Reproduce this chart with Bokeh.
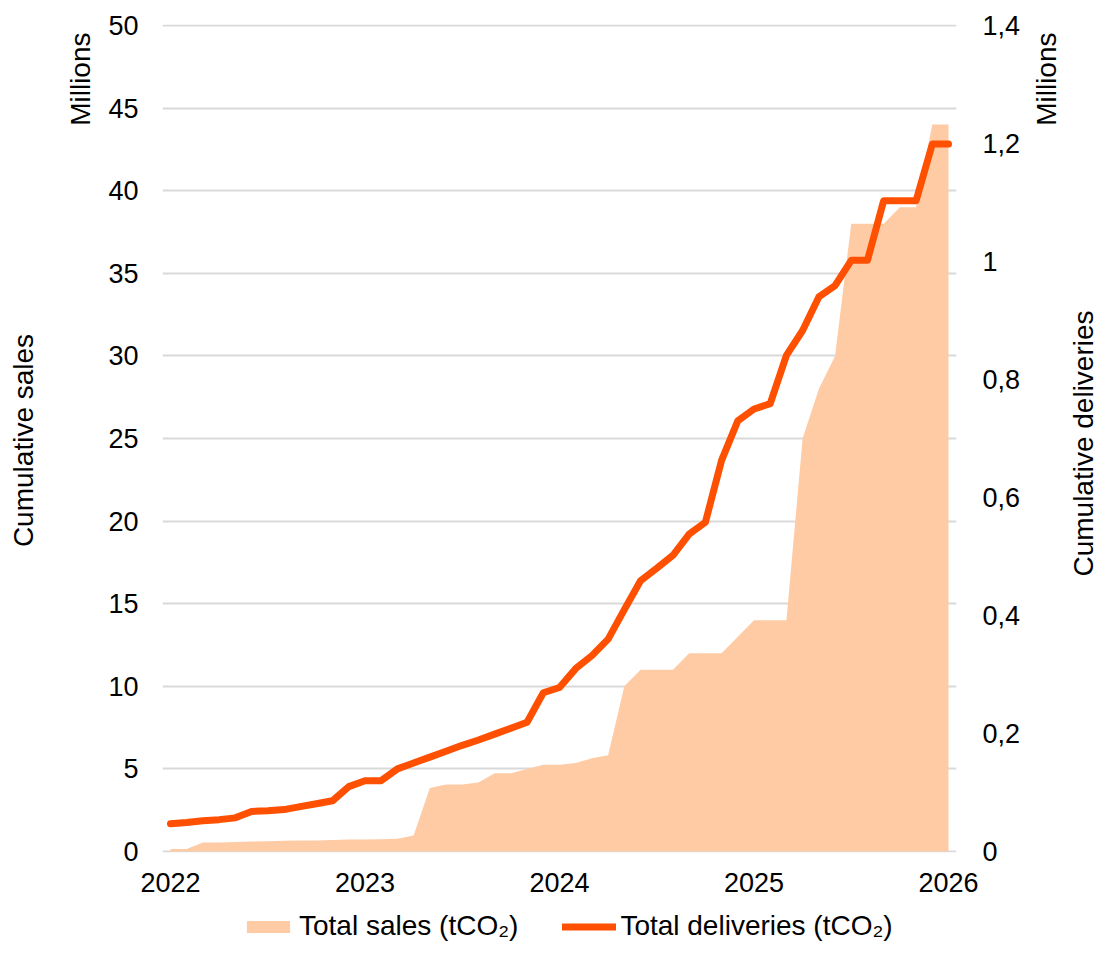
import math
from bokeh.plotting import figure
from bokeh.layouts import column, row
from bokeh.models import (Range1d, LinearAxis, FixedTicker, CustomJSTickFormatter,
                          Legend, LegendItem, ColumnDataSource, Label)
from bokeh.embed import file_html
from bokeh.resources import INLINE

# ---------------- data ----------------
years = [2022, 2023, 2024, 2025, 2026]
year_labels = ["2022", "2023", "2024", "2025", "2026"]
# monthly points, Jan 2022 .. Jan 2026
months = [f"{2022 + m // 12}-{m % 12 + 1:02d}" for m in range(49)]

# cumulative sales (millions tCO2), left axis
sales = [0.15, 0.15, 0.55, 0.55, 0.57, 0.60, 0.62, 0.65, 0.66, 0.67, 0.70, 0.72,
         0.73, 0.74, 0.77, 0.97, 3.85, 4.06, 4.06, 4.18, 4.74, 4.74, 5.00, 5.25,
         5.25, 5.35, 5.65, 5.83, 10.0, 11.0, 11.0, 11.0, 12.0, 12.0, 12.0, 13.0,
         14.0, 14.0, 14.0, 25.0, 28.0, 30.0, 38.0, 38.0, 38.0, 39.0, 39.0, 44.0,
         44.0]
# cumulative deliveries (millions tCO2), right axis
deliveries = [0.047, 0.049, 0.052, 0.054, 0.057, 0.068, 0.069, 0.071, 0.076, 0.081,
              0.086, 0.110, 0.120, 0.120, 0.140, 0.150, 0.160, 0.170, 0.180, 0.189,
              0.199, 0.209, 0.219, 0.269, 0.278, 0.310, 0.332, 0.360, 0.410, 0.459,
              0.480, 0.502, 0.538, 0.558, 0.663, 0.730, 0.750, 0.759, 0.841, 0.883,
              0.940, 0.959, 1.002, 1.002, 1.103, 1.103, 1.103, 1.199, 1.199]

left_ticks = [0, 5, 10, 15, 20, 25, 30, 35, 40, 45, 50]
right_ticks = [0, 0.2, 0.4, 0.6, 0.8, 1.0, 1.2, 1.4]

sales_label = "Total sales (tCO\u2082)"
deliv_label = "Total deliveries (tCO\u2082)"
left_title = "Cumulative sales"
right_title = "Cumulative deliveries"
unit_title = "Millions"

# ---------------- styling ----------------
FONT = "Liberation Sans"
TICK_FS = "27px"
TITLE_FS = "28px"
LEG_FS = "28px"
AREA_COLOR = "#FECBA5"
LINE_COLOR = "#FE5000"
GRID_COLOR = "#D9D9D9"
TEXT_COLOR = "#000000"

TOTAL_W, TOTAL_H = 1101, 942
W_LEFT, W_RIGHT = 102, 75
W_MAIN = TOTAL_W - W_LEFT - W_RIGHT
H_MAIN = 903
H_LEG = TOTAL_H - H_MAIN
ML, MR, MT, MB = 60, 70, 24, 51
frame_w = W_MAIN - ML - MR
frame_h = H_MAIN - MT - MB
px_per_year = 194.5
x_start = 2022 - 8 / px_per_year
x_end = x_start + frame_w / px_per_year
pad = 50.0 / (frame_h - 2)          # 1px padding (left axis units)
L_MAX, R_MAX = 50.0, 1.4
rpad = pad * R_MAX / L_MAX

xvals = [int(m[:4]) + (int(m[5:]) - 1) / 12 for m in months]
src = ColumnDataSource(dict(x=xvals, sales=sales, deliv=deliveries))

# ---------------- main chart ----------------
p = figure(width=W_MAIN, height=H_MAIN, output_backend="svg", toolbar_location=None,
           title_location=None,
           x_range=Range1d(x_start, x_end), y_range=Range1d(-pad, L_MAX + pad),
           min_border_left=ML, min_border_right=MR, min_border_top=MT,
           min_border_bottom=MB)
p.outline_line_color = None
p.background_fill_color = "white"
p.border_fill_color = "white"
p.extra_y_ranges = {"right": Range1d(-rpad, R_MAX + rpad)}

area = p.varea(x="x", y1=0, y2="sales", source=src, fill_color=AREA_COLOR,
               fill_alpha=1.0)
line = p.line(x="x", y="deliv", source=src, y_range_name="right",
              line_color=LINE_COLOR, line_width=7, line_cap="round",
              line_join="round")

def style_axis(ax, standoff):
    ax.axis_line_color = None
    ax.major_tick_line_color = None
    ax.minor_tick_line_color = None
    ax.major_tick_out = 0
    ax.major_tick_in = 0
    ax.minor_tick_out = 0
    ax.minor_tick_in = 0
    ax.major_label_text_font = FONT
    ax.major_label_text_font_size = TICK_FS
    ax.major_label_text_color = TEXT_COLOR
    ax.major_label_standoff = standoff

xa = p.xaxis[0]
xa.ticker = FixedTicker(ticks=years)
xa.major_label_overrides = {y: l for y, l in zip(years, year_labels)}
style_axis(xa, 20)

ya = p.yaxis[0]
ya.ticker = FixedTicker(ticks=left_ticks)
style_axis(ya, 24)

ra = LinearAxis(y_range_name="right", ticker=FixedTicker(ticks=right_ticks),
                formatter=CustomJSTickFormatter(code="""
                    var s = (Math.round(tick * 10) / 10).toString();
                    return s.replace('.', ',');
                """))
style_axis(ra, 26)
p.add_layout(ra, "right")

p.xgrid.grid_line_color = None
p.ygrid.ticker = FixedTicker(ticks=left_ticks)
p.ygrid.grid_line_color = GRID_COLOR
p.ygrid.grid_line_width = 2

# ---------------- side panels holding the axis titles ----------------
# data units of these panels equal pixels from the top of the chart
def text_panel(w, h, top=0, bottom=0):
    f = figure(width=w, height=h, output_backend="svg", toolbar_location=None,
               title_location=None, x_range=Range1d(0, w),
               y_range=Range1d(h - bottom, top),
               min_border_left=0, min_border_right=0,
               min_border_top=top, min_border_bottom=bottom,
               x_axis_location=None, y_axis_location=None)
    f.outline_line_color = None
    f.background_fill_color = "white"
    f.border_fill_color = "white"
    f.xgrid.visible = False
    f.ygrid.visible = False
    return f

def vtitle(f, text, x, y, align):
    f.add_layout(Label(x=x, y=y, text=text, angle=math.pi / 2, text_align=align,
                       text_baseline="middle", text_font=FONT,
                       text_font_size=TITLE_FS, text_color=TEXT_COLOR))

left_fig = text_panel(W_LEFT, H_MAIN, MT, MB)
vtitle(left_fig, unit_title, 80, 32, "right")
vtitle(left_fig, left_title, 23, 440, "center")

right_fig = text_panel(W_RIGHT, H_MAIN, MT, MB)
vtitle(right_fig, unit_title, 20, 32, "right")
vtitle(right_fig, right_title, 57, 443, "center")

# ---------------- legend strip ----------------
leg_fig = text_panel(TOTAL_W, H_LEG)
# proxies for the legend glyphs (the data lie outside this strip's ranges)
a2 = leg_fig.varea(x="x", y1=0, y2="sales", source=src, fill_color=AREA_COLOR,
                   fill_alpha=1.0)
l2 = leg_fig.line(x="x", y="deliv", source=src, line_color=LINE_COLOR,
                  line_width=7, line_cap="round")
legend = Legend(items=[LegendItem(label=sales_label, renderers=[a2]),
                       LegendItem(label=deliv_label, renderers=[l2])],
                orientation="horizontal", location=(241, 0),
                glyph_width=54, glyph_height=15, label_standoff=4, spacing=44,
                padding=0, margin=0, border_line_color=None,
                background_fill_alpha=0, label_text_font=FONT,
                label_text_font_size=LEG_FS, label_text_color=TEXT_COLOR)
leg_fig.add_layout(legend)

layout = column(row(left_fig, p, right_fig, spacing=0), leg_fig, spacing=0)

open("out.html", "w").write(file_html(layout, INLINE))
